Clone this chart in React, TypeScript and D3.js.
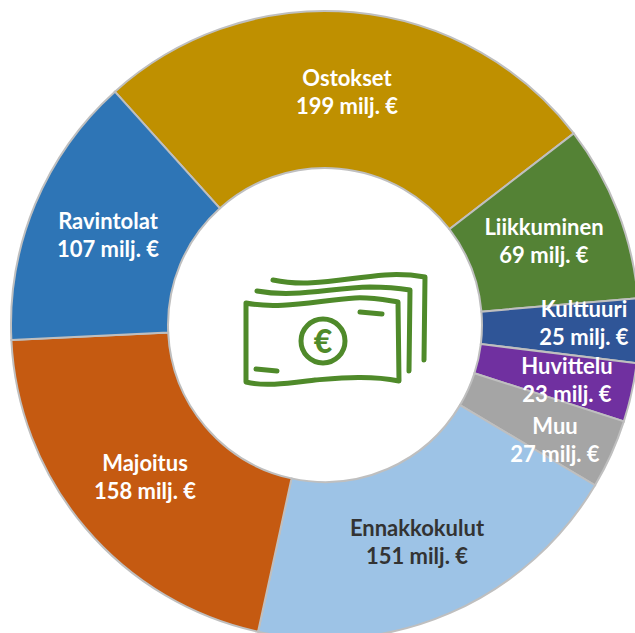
import React from "react";
import * as d3 from "d3";

const categories = ["Ostokset", "Liikkuminen", "Kulttuuri", "Huvittelu", "Muu", "Ennakkokulut", "Majoitus", "Ravintolat"];
const values = [199, 69, 25, 23, 27, 151, 158, 107];
const colors = ["#BF9000", "#548235", "#2F5597", "#7030A0", "#A5A5A5", "#9DC3E6", "#C55A11", "#2E75B6"];
const textColors = ["#fff", "#fff", "#fff", "#fff", "#fff", "#333", "#fff", "#fff"];
const unit = " milj. €";

const W = 635, H = 633;
const CX = 325, CY = 325, R0 = 157, R1 = 314;
const START = (-42 * Math.PI) / 180;

const pie = d3.pie<number>().sort(null).startAngle(START).endAngle(START + 2 * Math.PI);
const arc = d3.arc<d3.PieArcDatum<number>>().innerRadius(R0).outerRadius(R1);
const labelPos: [number, number][] = [[347, 93], [544, 242], [584, 324], [567, 381], [555, 441], [417, 543], [145, 478], [108, 236]];

export default function App() {
  const arcs = pie(values);
  const green = "#4F8A2A";
  return (
    <svg width={W} height={H} style={{ position: "absolute", left: 0, top: 0 }}>
      <g transform={`translate(${CX},${CY})`}>
        {arcs.map((a, i) => (
          <path key={i} d={arc(a) || ""} fill={colors[i]} stroke="#BFBFBF" strokeWidth={2} />
        ))}
      </g>
      <g fill="none" stroke={green} strokeWidth={5} strokeLinecap="round" strokeLinejoin="round" transform="translate(220,250)">
        <path d="M26,53 C60,60 100,50 135,48 C150,47 165,50 178,52 L179,131 C150,125 120,128 95,130 C70,133 45,137 26,132 Z" />
        <path d="M37,41 C75,48 110,38 150,37 C165,37 178,38 190,40 L189,121" />
        <path d="M53,30 C90,38 125,28 165,25 C180,24 193,25 205,27 L204,110" />
        <path d="M140,62 L162,64" />
        <path d="M36,119 L57,121" />
        <circle cx={103} cy={91} r={22} />
      </g>
      <text x={323} y={353} textAnchor="middle" fill={green} style={{ font: "900 32px Lato" }}>€</text>
      {categories.map((c, i) => {
        const [x, y] = labelPos[i];
        return (
          <text key={c} textAnchor="middle" fill={textColors[i]} style={{ font: "bold 22px Lato" }}>
            <tspan x={x} y={y - 7}>{c}</tspan>
            <tspan x={x} y={y + 21}>{values[i] + unit}</tspan>
          </text>
        );
      })}
    </svg>
  );
}
